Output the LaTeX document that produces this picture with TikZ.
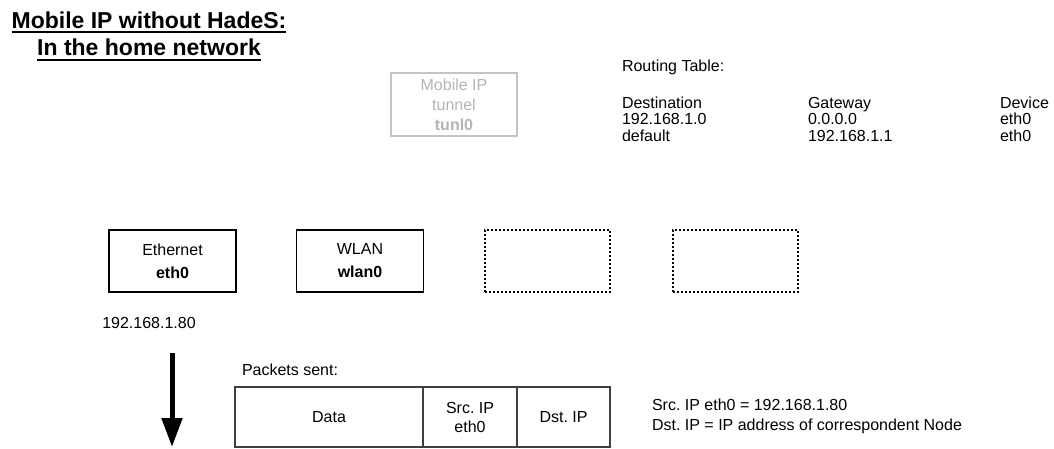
\documentclass[tikz,border=0pt]{standalone}
\usepackage{fontspec}
\setmainfont{Liberation Sans}
\usetikzlibrary{arrows.meta}
\definecolor{tgray}{HTML}{B4B4B4}
\definecolor{tborder}{HTML}{C4C4C4}
\definecolor{tabline}{HTML}{404040}
\begin{document}
\frenchspacing
\begin{tikzpicture}[x=1pt,y=-1pt,
  every node/.style={inner sep=0pt, outer sep=0pt},
  body/.style={font=\fontsize{16}{18}\selectfont},
  txt/.style={body, anchor=base west},
  ttl/.style={font=\fontsize{23}{26}\selectfont\bfseries, anchor=base},
  uline/.style={line width=2pt},
  iface/.style={draw, line width=1.6pt, minimum width=127pt, minimum height=62pt, align=center, font=\fontsize{16}{23}\selectfont},
  spare/.style={draw, line width=1.6pt, dash pattern=on 2pt off 2pt, minimum width=125pt, minimum height=62pt},
  tunbox/.style={draw=tborder, line width=1.3pt, text=tgray, minimum width=126pt, minimum height=63pt, align=center, font=\fontsize{16}{20}\selectfont},
  cell/.style={draw=tabline, line width=1.5pt, minimum height=60pt, align=center, font=\fontsize{16}{19}\selectfont},
  bigarrow/.style={line width=5pt, -{Triangle[length=29pt,width=20pt]}}
]
\useasboundingbox (0,0) rectangle (1054,448);

% title
\node[ttl] (t1) at (149,28) {Mobile IP without HadeS:};
\node[ttl] (t2) at (149,55) {In the home network};
\draw[uline] ([yshift=-4pt]t1.base west) -- ([yshift=-4pt]t1.base east);
\draw[uline] ([yshift=-5pt]t2.base west) -- ([yshift=-5pt]t2.base east);

% tunnel
\node[tunbox] (tun) at (454,104.5) {Mobile IP\\tunnel\\\textbf{tunl0}};

% routing table
\node[txt] (rt) at (622,71) {Routing Table:};
\node[txt] (h1) at (622,108) {Destination};
\node[txt] (h2) at (808,108) {Gateway};
\node[txt] (h3) at (1000,108) {Device};
\node[txt] (r11) at (622,124) {192.168.1.0};
\node[txt] (r12) at (808,124) {0.0.0.0};
\node[txt] (r13) at (1000,124) {eth0};
\node[txt] (r21) at (622,141) {default};
\node[txt] (r22) at (808,141) {192.168.1.1};
\node[txt] (r23) at (1000,141) {eth0};

% interfaces
\node[iface] (eth) at (172.5,261) {Ethernet\\\textbf{eth0}};
\node[iface] (wlan) at (360,261) {WLAN\\\textbf{wlan0}};
\node[spare] (s1) at (547.5,261) {};
\node[spare] (s2) at (735.5,261) {};

\node[body, anchor=base] (ip) at (149,328) {192.168.1.80};

% arrow
\coordinate (as) at (172,353);
\coordinate (ae) at (172,447);
\draw[bigarrow] (as) -- (ae);

% packets
\node[txt] (ps) at (242,375) {Packets sent:};
\node[cell, minimum width=188pt] (data) at (329,417) {Data};
\node[cell, minimum width=94pt] (src) at (470,417) {Src. IP\\eth0};
\node[cell, minimum width=93pt] (dst) at (563.5,417) {Dst. IP};

\node[txt] (n1) at (652,410) {Src. IP eth0 = 192.168.1.80};
\node[txt] (n2) at (652,430) {Dst. IP = IP address of correspondent Node};
\end{tikzpicture}
\end{document}
